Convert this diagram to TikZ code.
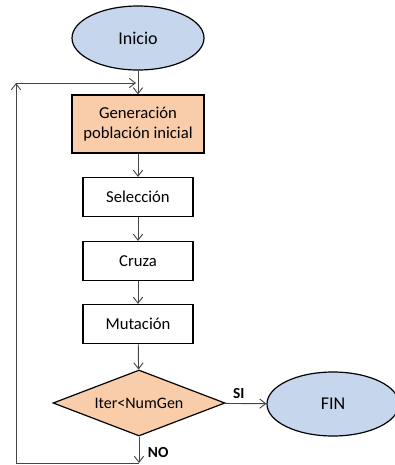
\documentclass[tikz,border=0pt]{standalone}
\usepackage{fontspec}
\setmainfont{Carlito}
\usetikzlibrary{shapes.geometric,arrows.meta}
\definecolor{inicioazul}{HTML}{C6D6EC}
\definecolor{cajanaranja}{HTML}{F9CDAA}
\definecolor{linea}{HTML}{454545}
\tikzstyle{terminal}=[ellipse, draw=black, line width=0.9pt, fill=inicioazul,
minimum width=99pt, minimum height=48pt, font=\fontsize{13.5}{15}\selectfont]
\tikzstyle{inicial}=[rectangle, draw=black, line width=0.9pt, fill=cajanaranja,
minimum width=99pt, minimum height=43.5pt, align=center, font=\fontsize{12.5}{15.5}\selectfont]
\tikzstyle{proceso}=[rectangle, draw=black, line width=0.9pt, fill=white,
minimum width=82.5pt, minimum height=29.25pt, font=\fontsize{12.5}{14}\selectfont]
\tikzstyle{decision}=[diamond, draw=black, line width=0.9pt, fill=cajanaranja, aspect=2.6,
inner sep=0pt, minimum width=129pt, minimum height=49.5pt, font=\fontsize{12}{14}\selectfont]
\tikzstyle{flecha}=[-{Straight Barb[length=4.5pt,width=7pt]}, draw=linea, line width=0.7pt]

\begin{document}
\begin{tikzpicture}[x=0.75pt,y=-0.75pt]
\useasboundingbox (0,0) rectangle (395,465);
\node[terminal](inicio)at (138,38){Inicio};
\node[inicial](gen)at (138,124){Generación\\población inicial};
\node[proceso](sel)at (138,197){Selección};
\node[proceso](cruza)at (138,261){Cruza};
\node[proceso](mut)at (138,324){Mutación};
\node[decision](dec)at (139,403){Iter\textless NumGen};
\node[terminal](fin)at (333,404){FIN};

\coordinate (union) at (136,83);
\coordinate (abajo) at (139,463);
\coordinate (esqabajo) at (16,463);
\coordinate (esqarriba) at (16,83);

\draw [flecha](inicio) -- (gen);
\draw [flecha](gen) -- (sel);
\draw [flecha](sel) -- (cruza);
\draw [flecha](cruza) -- (mut);
\draw [flecha](mut) -- (dec);
\draw [flecha](dec) -- node[above, font=\bfseries\fontsize{11.5}{13}\selectfont, xshift=-5pt]{SI} (fin);
\draw [flecha](dec.south) -- node[right, font=\bfseries\fontsize{11.5}{13}\selectfont, yshift=-2pt, xshift=3pt]{NO} (abajo);
\draw [flecha](abajo) -- (esqabajo) -- (esqarriba);
\draw [flecha](esqarriba) -- (union);
\end{tikzpicture}
\end{document}
